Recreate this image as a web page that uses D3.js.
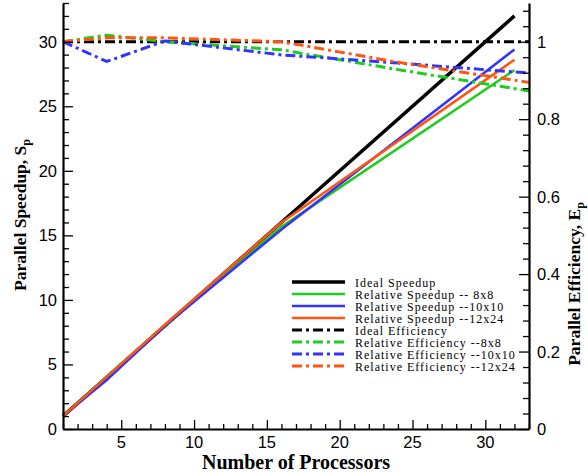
<!DOCTYPE html>
<html>
<head>
<meta charset="utf-8">
<script src="https://cdn.jsdelivr.net/npm/d3@7"></script>
<style>
    body { margin: 0; background: #fff; }
    .tick-label { font-family: "Liberation Sans", Arial, sans-serif; font-size: 16.5px; fill: #000; }
    .axis-title { font-family: "Liberation Serif", "Times New Roman", serif; font-size: 20px; font-weight: bold; fill: #000; }
    .legend-text { font-family: "Liberation Serif", "Times New Roman", serif; font-size: 12px; letter-spacing: 1px; fill: #000; }
</style>
</head>
<body>
<div id="chart"></div>
<script>
//---------------------------DATA---------------------------
// processors where speedup was measured
var speedupProcs = [1, 4, 8, 16, 32];
var idealProcs = [1, 32];
var idealSpeedup = [1, 32];
var speedup8x8 = [1, 4.06, 8.0, 15.66, 27.8];
var speedup10x10 = [1, 3.8, 8.0, 15.46, 29.4];
var speedup12x24 = [1, 4.04, 8.08, 16.0, 28.6];

// efficiency curves (right axis)
var effProcs = [1, 4, 8, 16, 24, 33];
var idealEffProcs = [1, 33];
var idealEfficiency = [1, 1];
var eff8x8 = [1.0, 1.017, 1.0, 0.979, 0.928, 0.873];
var eff10x10 = [1.0, 0.949, 1.002, 0.966, 0.945, 0.919];
var eff12x24 = [1.0, 1.01, 1.01, 1.0, 0.947, 0.895];

var xTickLabels = [5, 10, 15, 20, 25, 30];
var leftTickLabels = [0, 5, 10, 15, 20, 25, 30];
var rightTickLabels = [0, 0.2, 0.4, 0.6, 0.8, 1];

var legendLabels = ["Ideal Speedup", "Relative Speedup -- 8x8", "Relative Speedup --10x10",
    "Relative Speedup --12x24", "Ideal Efficiency", "Relative Efficiency --8x8",
    "Relative Efficiency --10x10", "Relative Efficiency --12x24"];

function init() {
    var w = 588;
    var h = 472;
    var margin = {top: 3, right: 59, bottom: 43, left: 63};

    var svg = d3.select("#chart")
                .append("svg")
                .attr("width", w)
                .attr("height", h);

    var xScale = d3.scaleLinear().domain([1, 33]).range([margin.left, w - margin.right]);
    var yLeft = d3.scaleLinear().domain([0, 33]).range([h - margin.bottom, margin.top]);
    var yRight = d3.scaleLinear().domain([0, 1.1]).range([h - margin.bottom, margin.top]);

    var green = "#1fcc1f", blue = "#3333ff", orange = "#ff5511";
    var dashDot = "10,4,3,4";

    // series definitions built from the arrays
    var series = [
        {x: idealProcs, y: idealSpeedup, scale: yLeft, color: "#000", width: 3.5, dash: null},
        {x: speedupProcs, y: speedup8x8, scale: yLeft, color: green, width: 2.5, dash: null},
        {x: speedupProcs, y: speedup10x10, scale: yLeft, color: blue, width: 2.5, dash: null},
        {x: speedupProcs, y: speedup12x24, scale: yLeft, color: orange, width: 2.5, dash: null},
        {x: idealEffProcs, y: idealEfficiency, scale: yRight, color: "#000", width: 3, dash: dashDot},
        {x: effProcs, y: eff8x8, scale: yRight, color: green, width: 3, dash: dashDot},
        {x: effProcs, y: eff10x10, scale: yRight, color: blue, width: 3, dash: dashDot},
        {x: effProcs, y: eff12x24, scale: yRight, color: orange, width: 3, dash: dashDot}
    ];

    series.forEach(function(s) {
        var pts = s.x.map(function(v, i) { return [v, s.y[i]]; });
        var line = d3.line()
                    .x(function(d) { return xScale(d[0]); })
                    .y(function(d) { return s.scale(d[1]); });
        svg.append("path")
            .datum(pts)
            .attr("d", line)
            .attr("fill", "none")
            .attr("stroke", s.color)
            .attr("stroke-width", s.width)
            .attr("stroke-dasharray", s.dash);
    });

    //--------AXES (ticks point inward)--------
    var xAxis = d3.axisTop(xScale)
                .tickValues(d3.range(1, 34))
                .tickSizeOuter(0)
                .tickSizeInner(5)
                .tickFormat("");
    var gx = svg.append("g")
        .attr("transform", "translate(0," + (h - margin.bottom) + ")")
        .call(xAxis);
    gx.selectAll(".tick line").filter(function(d) { return d % 5 == 0; }).attr("y2", -9);

    var leftAxis = d3.axisRight(yLeft)
                .tickValues(d3.range(0, 34))
                .tickSizeOuter(0)
                .tickSizeInner(6)
                .tickFormat("");
    var gl = svg.append("g")
        .attr("transform", "translate(" + margin.left + ",0)")
        .call(leftAxis);
    gl.selectAll(".tick line").filter(function(d) { return d % 5 == 0; }).attr("x2", 10);

    var rightAxis = d3.axisLeft(yRight)
                .tickValues(d3.range(0, 28).map(function(i) { return i * 0.04; }))
                .tickSizeOuter(0)
                .tickSizeInner(6)
                .tickFormat("");
    var gr = svg.append("g")
        .attr("transform", "translate(" + (w - margin.right) + ",0)")
        .call(rightAxis);
    gr.selectAll(".tick line").filter(function(d, i) { return i % 5 == 0; }).attr("x2", -10);

    [gx, gl, gr].forEach(function(g) {
        g.select(".domain").attr("stroke-width", 2.2);
        g.selectAll(".tick line").attr("stroke-width", 1.3);
    });

    // tick labels
    svg.selectAll(".xlab").data(xTickLabels).enter().append("text")
        .attr("class", "tick-label")
        .attr("x", function(d) { return xScale(d); })
        .attr("y", h - margin.bottom + 18.5)
        .attr("text-anchor", "middle")
        .text(function(d) { return d; });

    svg.selectAll(".llab").data(leftTickLabels).enter().append("text")
        .attr("class", "tick-label")
        .attr("x", margin.left - 6)
        .attr("y", function(d) { return yLeft(d) + 6; })
        .attr("text-anchor", "end")
        .text(function(d) { return d; });

    svg.selectAll(".rlab").data(rightTickLabels).enter().append("text")
        .attr("class", "tick-label")
        .attr("x", w - margin.right + 8)
        .attr("y", function(d) { return yRight(d) + 6; })
        .attr("text-anchor", "start")
        .text(function(d) { return d; });

    //--------AXIS TITLES--------
    svg.append("text")
        .attr("class", "axis-title")
        .attr("x", 296)
        .attr("y", 469)
        .attr("text-anchor", "middle")
        .text("Number of Processors");

    var lt = svg.append("text")
        .attr("class", "axis-title")
        .style("font-size", "17.5px")
        .attr("text-anchor", "middle")
        .attr("transform", "translate(26,215) rotate(-90)");
    lt.append("tspan").text("Parallel Speedup, S");
    lt.append("tspan").attr("dy", 4).style("font-size", "12px").text("p");

    var rt = svg.append("text")
        .attr("class", "axis-title")
        .style("font-size", "17.5px")
        .attr("text-anchor", "middle")
        .attr("transform", "translate(580,284) rotate(-90)");
    rt.append("tspan").text("Parallel Efficiency, E");
    rt.append("tspan").attr("dy", 4).style("font-size", "12px").text("p");

    //--------LEGEND--------
    var legend = svg.append("g").attr("transform", "translate(292,282)");
    var rows = legend.selectAll("g").data(series).enter().append("g")
        .attr("transform", function(d, i) { return "translate(0," + (i * 12) + ")"; });
    rows.append("line")
        .attr("x1", 0).attr("x2", 53)
        .attr("stroke", function(d) { return d.color; })
        .attr("stroke-width", function(d) { return d.dash ? 3 : (d.width > 3 ? 3.5 : 2.5); })
        .attr("stroke-dasharray", function(d) { return d.dash; });
    rows.append("text")
        .attr("class", "legend-text")
        .attr("x", 63)
        .attr("y", 4.5)
        .text(function(d, i) { return legendLabels[i]; });
}

window.onload = init;
</script>
</body>
</html>
